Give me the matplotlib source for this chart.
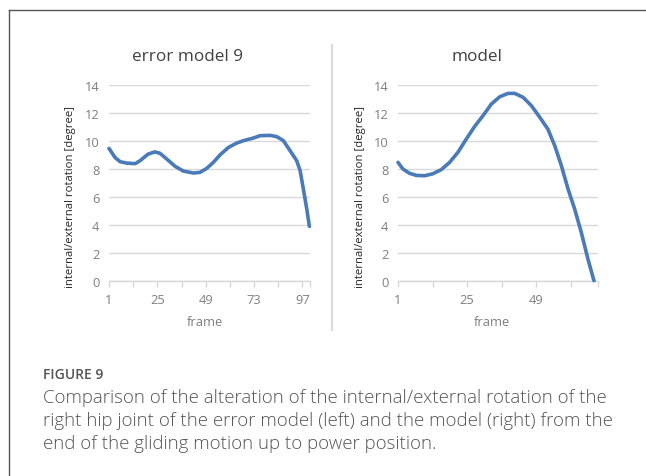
import matplotlib
matplotlib.use("Agg")
import matplotlib.pyplot as plt
from matplotlib.lines import Line2D

plt.rcParams['font.family'] = ['Open Sans', 'DejaVu Sans']

# ---- data ----
err_frames = [1, 4, 6.5, 9.8, 14, 16.4, 20.5, 23.8, 26.3, 29.6, 33.8, 37.9, 42.9, 46.2,
              49.5, 52.8, 56.1, 60.3, 64.4, 67.7, 72.7, 76, 81, 84.3, 87.6, 90.9, 94.2,
              95.9, 97.5, 99.2, 100.5]
err_values = [9.45, 8.8, 8.5, 8.4, 8.36, 8.57, 9.05, 9.2, 9.1, 8.7, 8.17, 7.83, 7.69, 7.74,
              8.02, 8.45, 8.98, 9.52, 9.83, 10.0, 10.19, 10.36, 10.38, 10.29, 10.0, 9.29, 8.57,
              7.86, 6.55, 5.12, 3.88]

mod_frames = [1, 2.7, 5, 7.4, 10.3, 13.1, 16, 18.9, 21.8, 24.7, 27.6, 30.5, 33.4, 36.3,
              39.2, 41.5, 44.4, 47.3, 50.2, 53, 55.4, 57.7, 60, 62.3, 64.6, 66.9, 69]
mod_values = [8.45, 7.98, 7.67, 7.52, 7.5, 7.64, 7.93, 8.45, 9.17, 10.12, 11.02, 11.79, 12.62,
              13.14, 13.38, 13.38, 13.1, 12.5, 11.67, 10.83, 9.64, 8.21, 6.55, 5.12, 3.45, 1.55, 0.0]

err_ticks = [1, 25, 49, 73, 97]
mod_ticks = [1, 25, 49]
y_ticks = [0, 2, 4, 6, 8, 10, 12, 14]

titles = ["error model 9", "model"]
ylabel = "internal/external rotation [degree]"
xlabel = "frame"
caption_head = "FIGURE 9"
caption_lines = ["Comparison of the alteration of the internal/external rotation of the",
                 "right hip joint of the error model (left) and the model (right) from the",
                 "end of the gliding motion up to power position."]

W, H = 646, 477
fig = plt.figure(figsize=(W / 100, H / 100), dpi=100)

def fx(px):
    return px / W

def fy(py):
    return 1 - py / H

line_color = "#4a7ab8"
tick_color = "#7f7f7f"
grid_color = "#d9d9d9"

panels = [
    dict(left=109, right=310, xmax=100.8, frames=err_frames, values=err_values,
         ticks=err_ticks, minor=list(range(1, 101, 12)), title_x=187, ylab_x=70, xlab_x=205),
    dict(left=398, right=598, xmax=70.4, frames=mod_frames, values=mod_values,
         ticks=mod_ticks, minor=list(range(1, 71, 12)), title_x=477, ylab_x=361, xlab_x=492),
]

top_px, bot_px = 85.7, 281.7
for i, p in enumerate(panels):
    ax = fig.add_axes([fx(p['left']), fy(bot_px), fx(p['right'] - p['left']), (bot_px - top_px) / H])
    ax.set_xlim(1, p['xmax'])
    ax.set_ylim(0, 14)
    for s in ['top', 'right', 'left']:
        ax.spines[s].set_visible(False)
    ax.spines['bottom'].set_color(grid_color)
    ax.spines['bottom'].set_linewidth(1.0)
    ax.spines['bottom'].set_zorder(1)
    ax.set_yticks(y_ticks)
    ax.yaxis.grid(True, color=grid_color, linewidth=1.0)
    ax.set_axisbelow(True)
    ax.tick_params(axis='y', length=0, labelsize=9.3, labelcolor=tick_color, pad=7)
    ax.set_xticks(p['minor'] + [p['xmax']], minor=True)
    ax.set_xticks(p['ticks'])
    ax.tick_params(axis='x', which='both', length=4, color=grid_color, width=1.0,
                   labelsize=9.3, labelcolor=tick_color, pad=5)
    ax.tick_params(axis='x', which='minor', labelbottom=False)
    ax.plot(p['frames'], p['values'], color=line_color, linewidth=2.6,
            solid_capstyle='round', clip_on=False, zorder=3)
    fig.text(fx(p['title_x']), fy(57), titles[i], ha='center', va='center',
             fontsize=12.3, color='#404040')
    fig.text(fx(p['ylab_x']), fy(197), ylabel, rotation=90, ha='center', va='center',
             fontsize=8.2, color='#262626')
    fig.text(fx(p['xlab_x']), fy(323), xlabel, ha='center', va='center',
             fontsize=9.3, color=tick_color)

# separator and frame lines
fig.add_artist(Line2D([fx(332), fx(332)], [fy(46), fy(331)], color='#dcdcdc', linewidth=1.6))
fig.add_artist(Line2D([fx(9.3), fx(9.3)], [fy(11.3), 0], color='#555555', linewidth=1.0))
fig.add_artist(Line2D([fx(9.3), 1], [fy(11.3), fy(11.3)], color='#555555', linewidth=1.0))

# caption
fig.text(fx(43), fy(375), caption_head, ha='left', va='center', fontsize=10,
         color='#555555', fontweight='semibold')
for k, ln in enumerate(caption_lines):
    fig.text(fx(43), fy(398 + 23 * k), ln, ha='left', va='center', fontsize=13.4,
             color='#555555', fontweight='light')

fig.savefig("out.png", dpi=100)
